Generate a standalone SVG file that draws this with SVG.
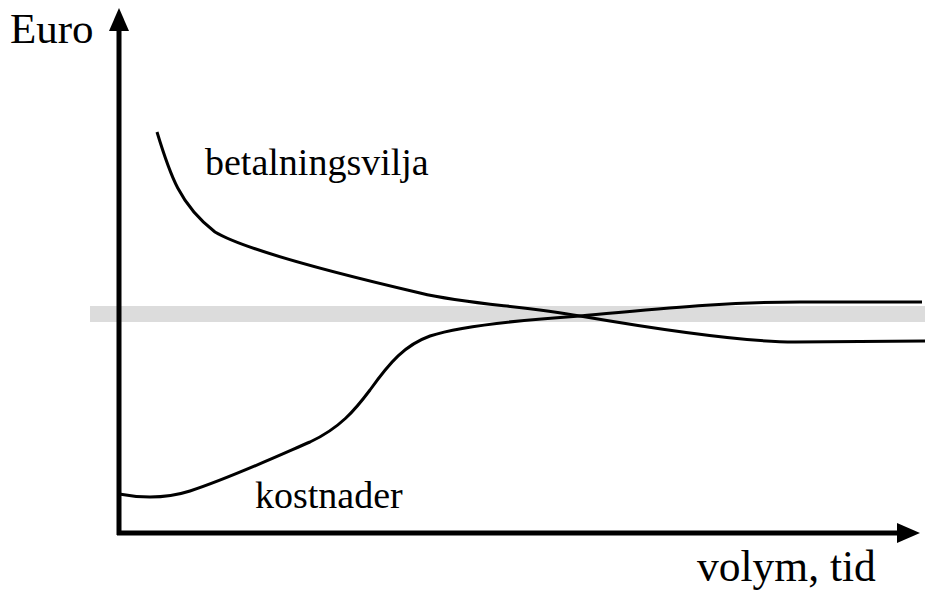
<svg xmlns="http://www.w3.org/2000/svg" width="925" height="592" viewBox="0 0 925 592">
<style>
.lbl{font-family:"Liberation Serif","Times New Roman",serif;fill:#000}
.curve{fill:none;stroke:#000;stroke-width:3;stroke-linecap:butt;stroke-linejoin:round}
.axis{fill:none;stroke:#000;stroke-width:5}
</style>
<rect width="925" height="592" fill="#fff"/>
<g id="band"><rect x="90" y="306" width="835" height="16" fill="#dcdcdc"/></g>
<g id="curves">
<path id="betalningsvilja-curve" class="curve" d="M157,132 C170,175 180,205 215,232 C245,250 330,272 420,293 C470,305 520,305 580,316 C650,328 740,342 795,342 L925,341"/>
<path id="kostnader-curve" class="curve" d="M119,494 C140,498 165,499 190,491 C230,478 280,455 310,442 C340,428 355,410 370,390 C390,362 405,345 430,336 C460,326 520,320 580,316 C650,310 720,302 800,302 L922,302"/>
</g>
<g id="axes">
<line class="axis" x1="119" y1="535" x2="119" y2="28"/>
<polygon points="119,8 109,31 129,31" fill="#000"/>
<line class="axis" x1="117" y1="533" x2="900" y2="533"/>
<polygon points="920,533 897,523 897,543" fill="#000"/>
</g>
<g id="labels">
<text class="lbl" x="10" y="43" font-size="43">Euro</text>
<text class="lbl" x="205" y="175" font-size="38">betalningsvilja</text>
<text class="lbl" x="255" y="508" font-size="38">kostnader</text>
<text class="lbl" x="697" y="581" font-size="43.5">volym, tid</text>
</g>
</svg>
